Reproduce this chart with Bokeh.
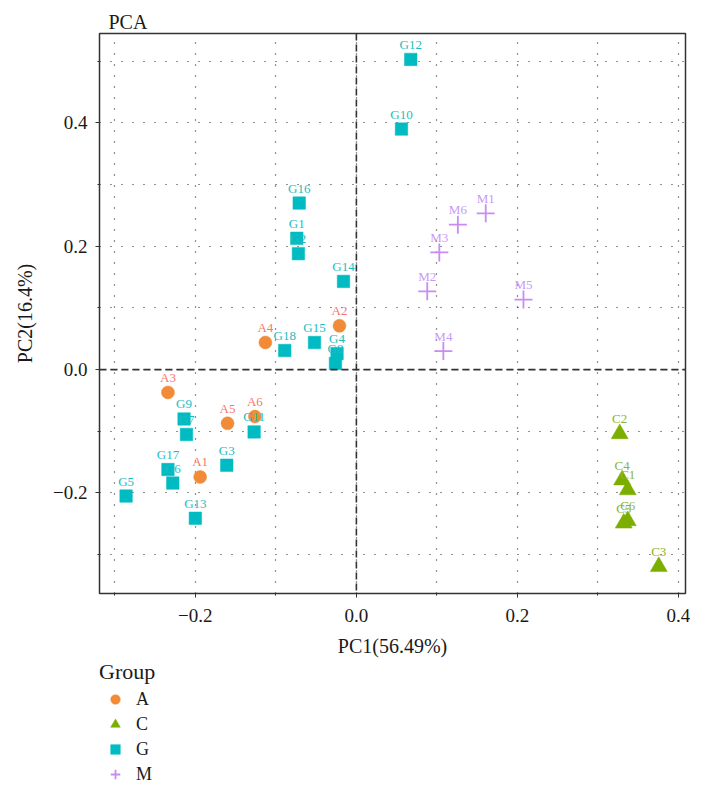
from bokeh.plotting import figure
from bokeh.layouts import column
from bokeh.models import (Range1d, FixedTicker, Span, Legend, LegendItem,
                          CustomJSTickFormatter, ColumnDataSource)
from bokeh.core.properties import value
from bokeh.embed import file_html
from bokeh.resources import INLINE

# ---- data ----
A_labels = ["A1", "A2", "A3", "A4", "A5", "A6"]
A_x = [-0.194, -0.021, -0.234, -0.113, -0.160, -0.126]
A_y = [-0.174, 0.071, -0.037, 0.044, -0.087, -0.076]

C_labels = ["C1", "C2", "C3", "C4", "C5", "C6"]
C_x = [0.337, 0.327, 0.3755, 0.330, 0.332, 0.337]
C_y = [-0.195, -0.104, -0.3195, -0.179, -0.249, -0.245]

G_labels = ["G1", "G2", "G3", "G4", "G5", "G6", "G7", "G8", "G9",
            "G10", "G11", "G12", "G13", "G14", "G15", "G16", "G17", "G18"]
G_x = [-0.074, -0.072, -0.161, -0.024, -0.286, -0.228, -0.211, -0.026, -0.214,
       0.056, -0.127, 0.0675, -0.200, -0.016, -0.052, -0.071, -0.234, -0.089]
G_y = [0.213, 0.188, -0.155, 0.026, -0.205, -0.184, -0.105, 0.010, -0.080,
       0.390, -0.101, 0.503, -0.241, 0.143, 0.044, 0.270, -0.162, 0.031]

M_labels = ["M1", "M2", "M3", "M4", "M5", "M6"]
M_x = [0.1606, 0.088, 0.103, 0.108, 0.2075, 0.126]
M_y = [0.2535, 0.127, 0.190, 0.030, 0.1135, 0.235]

groups = ["A", "C", "G", "M"]
x_major = [-0.2, 0.0, 0.2, 0.4]
x_minor = [-0.3, -0.1, 0.1, 0.3]
y_major = [-0.2, 0.0, 0.2, 0.4]
y_minor = [-0.3, -0.1, 0.1, 0.3, 0.5]

FONT = "Liberation Serif"
INK = "#1a1a1a"

p = figure(frame_width=586, frame_height=560, output_backend="svg", toolbar_location=None,
           x_range=Range1d(-0.319, 0.4087), y_range=Range1d(-0.363, 0.545),
           min_border_left=99, min_border_right=5, min_border_top=33,
           min_border_bottom=64)

p.title.text = "PCA"
p.title.text_font = FONT
p.title.text_font_size = "20px"
p.title.text_font_style = "normal"
p.title.text_color = INK
p.title.offset = 9
p.title.standoff = 2

p.outline_line_color = "#333333"
p.outline_line_width = 1.5
p.background_fill_color = "white"
p.border_fill_color = "white"

fmt = CustomJSTickFormatter(code="return tick.toFixed(1).replace('-', '\u2212');")
for ax, maj, mnr in ((p.xaxis[0], x_major, x_minor), (p.yaxis[0], y_major, y_minor)):
    ax.ticker = FixedTicker(ticks=maj, minor_ticks=mnr)
    ax.formatter = fmt
    ax.axis_line_color = None
    ax.major_tick_in = 0
    ax.major_tick_out = 4
    ax.minor_tick_in = 0
    ax.minor_tick_out = 2
    ax.major_tick_line_color = "#333333"
    ax.minor_tick_line_color = "#333333"
    ax.major_label_text_font = FONT
    ax.major_label_text_font_size = "19px"
    ax.major_label_text_color = INK
    ax.axis_label_text_font = FONT
    ax.axis_label_text_font_size = "20px"
    ax.axis_label_text_font_style = "normal"
    ax.axis_label_text_color = INK

p.xaxis.axis_label = "PC1(56.49%)"
p.yaxis.axis_label = "PC2(16.4%)"
p.xaxis.major_label_text_line_height = 1.0
p.xaxis.axis_label_text_line_height = 1.0
p.xaxis.major_label_standoff = 11
p.xaxis.axis_label_standoff = 10
p.yaxis.major_label_standoff = 8
p.yaxis.axis_label_standoff = 14

for g in (p.xgrid[0], p.ygrid[0]):
    g.grid_line_color = "#222222"
    g.grid_line_dash = "1 10"
    g.grid_line_width = 1.2
    g.minor_grid_line_color = "#222222"
    g.minor_grid_line_dash = "1 10"
    g.minor_grid_line_width = 1.2

p.add_layout(Span(location=0, dimension="width", line_color="#333333",
                  line_dash="7 4", line_width=1.6))
p.add_layout(Span(location=0, dimension="height", line_color="#333333",
                  line_dash="7 4", line_width=1.6))

point_colors = {"A": "#F28B38", "C": "#7CAE00", "G": "#00BCC2", "M": "#C98CF2"}
label_colors = {"A": "#F8766D", "C": "#8DB52A", "G": "#1DBDC2", "M": "#C99AF5"}
markers = {"A": "circle", "C": "triangle", "G": "square", "M": "cross"}
sizes = {"A": 13, "C": 17, "G": 12.5, "M": 18}
data = {"A": (A_x, A_y, A_labels), "C": (C_x, C_y, C_labels),
        "G": (G_x, G_y, G_labels), "M": (M_x, M_y, M_labels)}


def marker_style(g):
    if g == "M":
        return dict(marker="cross", line_color=point_colors[g], line_width=1.8)
    return dict(marker=markers[g], fill_color=point_colors[g],
                line_color=point_colors[g], line_width=0.5)


for g in groups:
    xs, ys, labs = data[g]
    src = ColumnDataSource(dict(x=xs, y=ys, lab=labs))
    p.scatter("x", "y", source=src, size=sizes[g], **marker_style(g))
    p.text("x", "y", text="lab", source=src, text_font=value(FONT),
           text_font_size="13px", text_color=label_colors[g],
           text_align="center", text_baseline="middle", y_offset=-15)

# ---- legend panel below the plot (its range keeps the key glyphs' data out of view) ----
q = figure(frame_width=586, frame_height=126, output_backend="svg", toolbar_location=None,
           x_axis_location=None, y_axis_location=None,
           x_range=Range1d(10, 11), y_range=Range1d(10, 11),
           min_border_left=99, min_border_right=5, min_border_top=0,
           min_border_bottom=0)
q.title.visible = False
q.outline_line_color = None
q.grid.visible = False
q.background_fill_color = "white"
q.border_fill_color = "white"

legend_renderers = []
for g in groups:
    xs, ys, _ = data[g]
    legend_renderers.append(q.scatter(x=xs, y=ys, size=13, **marker_style(g)))

legend = Legend(items=[LegendItem(label=g, renderers=[r]) for g, r in zip(groups, legend_renderers)],
                title="Group", location="top_left", orientation="vertical")
legend.title_text_font = FONT
legend.title_text_font_size = "22px"
legend.title_text_font_style = "normal"
legend.title_text_color = INK
legend.title_standoff = 2
legend.label_text_font = FONT
legend.label_text_font_size = "18px"
legend.label_text_color = INK
legend.label_standoff = 5
legend.glyph_width = 32
legend.glyph_height = 24
legend.label_height = 24
legend.spacing = 1
legend.padding = 0
legend.margin = 0
legend.border_line_color = None
legend.background_fill_alpha = 0
q.add_layout(legend, "center")

layout = column(p, q, spacing=0)
open("out.html", "w").write(file_html(layout, INLINE))
